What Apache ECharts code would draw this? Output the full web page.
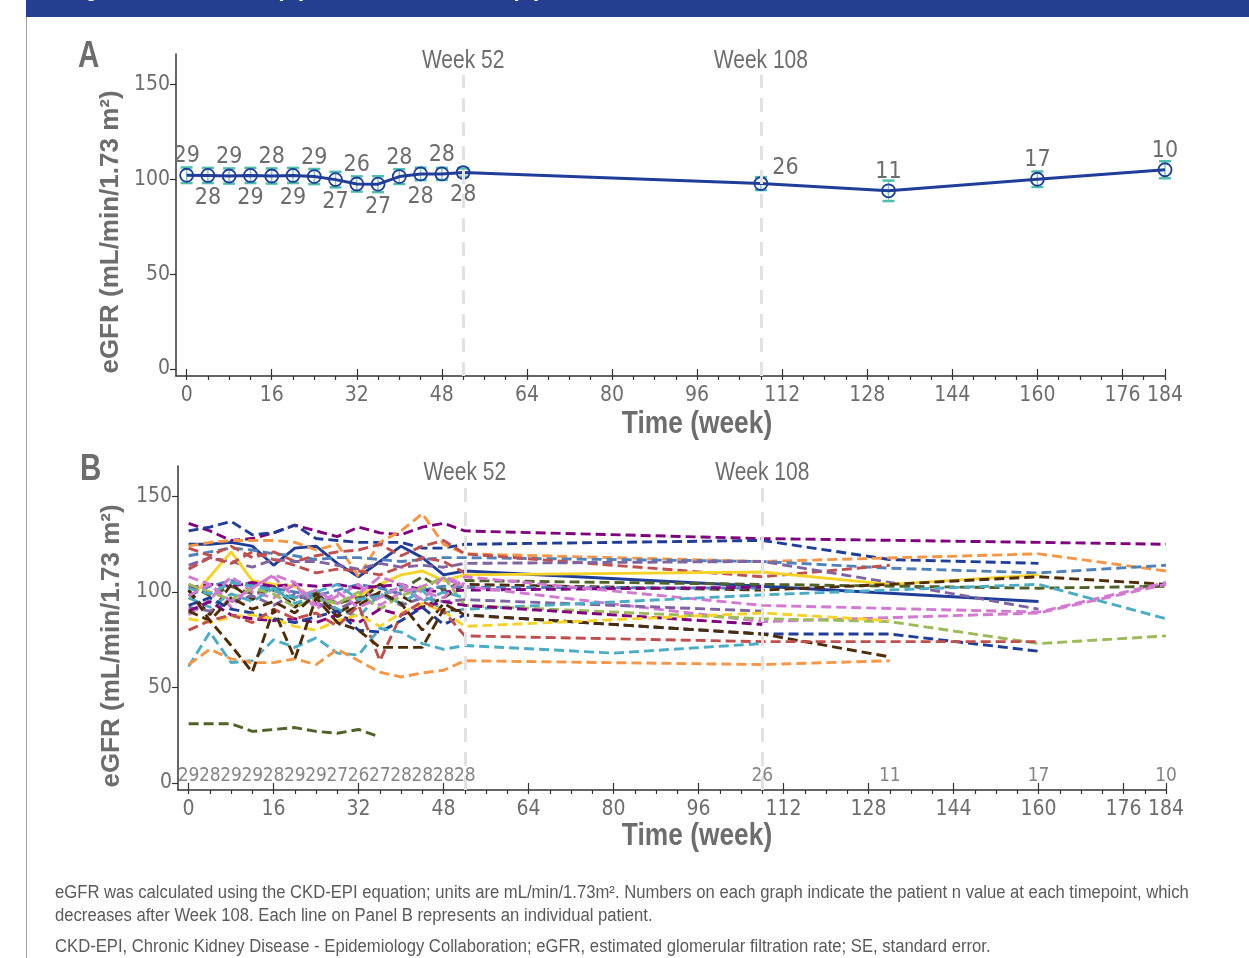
<!DOCTYPE html>
<html><head><meta charset="utf-8">
<script src="https://cdn.jsdelivr.net/npm/echarts@6/dist/echarts.min.js"></script>
<style>html,body{margin:0;padding:0;background:#fff}#c{width:1249px;height:958px}</style>
</head><body><div id="c"></div>
<script>
// ---------- Panel A: mean (SE) ----------
const weeksA = [0,4,8,12,16,20,24,28,32,36,40,44,48,52,108,132,160,184];
const meanA  = [102.1,102,101.7,102,101.7,102,101.4,99.8,97.5,97.4,101.4,102.8,102.8,103.5,97.7,93.9,100,105];
const seA    = [4.1,4,4,4,4,4,4,4.1,4,4.2,3.9,3.3,3.2,2.2,3.4,5.4,4.1,4.5];
const nA     = [29,28,29,29,28,29,29,27,26,27,28,28,28,28,26,11,17,10];

// ---------- Panel B: individual patients ----------
const weeksB = [0,4,8,12,16,20,24,28,32,36,40,44,48,52,80,108,132,160,184];
const nB     = [29,28,29,29,28,29,29,27,26,27,28,28,28,28,26,11,17,10];
const nWeeksB = [0,4,8,12,16,20,24,28,32,36,40,44,48,52,108,132,160,184];
const _ = null;
const p01 = [136,132,127,128,131,135,132,129,134,131,130,134,136,132,_,128,_,126,125];
const p02 = [132,134,137,130,131,135,128,127,126,126,126,123,123,125,_,127,117,115,_];
const p03 = [125,125,126,124,114,123,124,115,108,116,124,118,109,111,_,103,_,95,_];
const p04 = [124,126,127,127,127,126,122,125,108,126,132,141,125,120,_,116,_,120,111];
const p05 = [119,121,123,122,120,119,117,118,118,117,116,117,118,118,_,116,112.5,110,114];
const p06 = [123,119,124,118,121,116,119,121,122,125,119,124,127,120,_,108,114,_,_];
const p07 = [114,118,116,113,117,116,116,114,112,115,113,114,113,115,_,116,105,91,_];
const p08 = [96,108,121,106,104,103,96,94,98,104,109,111,106,109,_,110.5,104,109,_];
const p09 = [104,98,103,99,101,96,100,94,97,99,101,108,101,106,_,104,_,102,103];
const p10 = [101,88,104,96,103,92,100,89,95,104,98,92,97,104,_,101,104,108,104];
const p11 = [98,103,106,104,102,100,98,101,104,102,99,101,103,102.5,_,102,_,_,_];
const p12 = [102,104,103,105,103,104,103,104,102,103,104,101,100,101,_,102.5,_,_,_];
const p13 = [108,104,92,103,108,97,101,94,99,108,104,100,97,108,_,93,_,89.5,105];
const p14 = [88,96,108,100,97,104,91,98,104,93,100,103,107,103,_,84.5,_,89,104];
const p15 = [92,90,95,98,93,99,94,91,96,99,93,97,95,96,_,90,_,_,_];
const p16 = [97,92,99,95,102,94,98,91,87,99,94,101,89,91,_,98.5,_,104,86];
const p17 = [104,100,96,102,99,92,97,94,100,91,98,102,108,93,_,86,84.5,73,77];
const p18 = [90,95,88,86,85,86,84,88,84,91,88,92,95,93,_,83,_,_,_];
const p19 = [93,97,91,89,86,84,87,90,80,79,85,92,83,88,_,78,78,69,_];
const p20 = [90,85,97,91,95,89,99,87,93,100,94,80,94,88,_,78,66,_,_];
const p21 = [86,84,87,88,86,82,80,85,88,82,89,94,90,82,_,89,85,_,_];
const p22 = [80,85,88,84,91,86,89,82,93,64,88,95,90,77,_,74,_,74,_];
const p23 = [61,79,63,64,75,71,76,68,67,81,79,73,70,72,68,73,_,_,_];
const p24 = [62,70,65,63,63,65,62,70,64,58,55.5,57.6,59,64,_,62,64,_,_];
const p25 = [101,85,72,58,91,65,97,84,80,71,71,71,91,90,_,_,_,_,_];
const p26 = [31,31,31,27,28,29,27,26,28,24,_,_,_,_,_,_,_,_,_];
const p27 = [112,118,115,121,117,114,110,112,111,109,113,118,116,110,_,_,_,_,_];
const p28 = [102,99,105,103,101,97,100,104,96,98,103,95,100,97,_,_,_,_,_];
const p29 = [98,104,95,102,109,105,93,100,92,97,103,96,108,104,_,_,_,_,_];
const patients = [p01,p02,p03,p04,p05,p06,p07,p08,p09,p10,p11,p12,p13,p14,p15,p16,p17,p18,p19,p20,p21,p22,p23,p24,p25,p26,p27,p28,p29];
const patientColors = ['#800080','#1f3d99','#1f3d99','#f79646','#4f81bd','#c0504d','#8064a2','#f5d328','#4f6228','#4d2c06',
  '#4f81bd','#800080','#d279d2','#d279d2','#8064a2','#4bacc6','#9bbb59','#800080','#1f3d99','#4d2c06',
  '#f5d328','#c0504d','#4bacc6','#f79646','#4d2c06','#4f6228','#c0504d','#4bacc6','#d279d2'];
const patientSolid = [false,false,true,false,false,false,false,true,false,false,false,false,false,false,false,false,false,false,false,false,false,false,false,false,false,false,false,false,false];

const xTickLabels = [0,16,32,48,64,80,96,112,128,144,160,176,184];
const yTickLabels = [0,50,100,150];
const refWeeks = [52,108];
const refLabels = ['Week 52','Week 108'];

// ---------- styling ----------
const COND = "'DejaVu Sans Condensed','Liberation Sans',sans-serif";
const SANS = "'Liberation Sans',Arial,sans-serif";
const GREY = '#6d6d6d';
const AXIS = '#333333';
const minorTicks = [];
for (let w = 0; w <= 184; w += 4) minorTicks.push(w);

function xAxes(gi) {
  return [{
    type:'value', gridIndex:gi, min:-2, max:184, position:'bottom',
    axisLine:{show:true, onZero:false, lineStyle:{color:AXIS, width:1.5}},
    axisTick:{show:true, customValues:minorTicks, length:4, lineStyle:{color:AXIS, width:1.2}},
    axisLabel:{show:true, customValues:xTickLabels, color:GREY, fontFamily:COND, fontSize:21, margin:9},
    splitLine:{show:false}
  },{
    type:'value', gridIndex:gi, min:-2, max:184, position:'bottom',
    axisLine:{show:false},
    axisTick:{show:true, customValues:xTickLabels, length:7, lineStyle:{color:AXIS, width:1.2}},
    axisLabel:{show:false}, splitLine:{show:false}
  }];
}
function yAxis(gi) {
  return {
    type:'value', gridIndex:gi, min:-3.7, max:166,
    axisLine:{show:true, onZero:false, lineStyle:{color:AXIS, width:1.5}},
    axisTick:{show:true, customValues:yTickLabels, length:6, lineStyle:{color:AXIS, width:1.2}},
    axisLabel:{show:true, customValues:yTickLabels, color:GREY, fontFamily:COND, fontSize:21, margin:6},
    splitLine:{show:false}
  };
}
function refLineSeries(xi, yi) {
  return {
    type:'line', xAxisIndex:xi, yAxisIndex:yi, data:[], z:1, silent:true,
    markLine:{
      symbol:'none', silent:true, animation:false,
      lineStyle:{color:'#e2e2e2', width:3, type:[14,10]},
      label:{show:false},
      data: refWeeks.map((w,i)=>[{name:refLabels[i], coord:[w,-3.7]},{coord:[w,155]}])
    }
  };
}

// Panel A series
const errData = weeksA.map((w,i)=>[w, meanA[i]-seA[i], meanA[i]+seA[i]]);
const errSeries = {
  type:'custom', xAxisIndex:0, yAxisIndex:0, z:3, data:errData,
  renderItem:(params, api)=>{
    const x = api.value(0);
    const p1 = api.coord([x, api.value(1)]), p2 = api.coord([x, api.value(2)]);
    const w = 6;
    return {type:'group', children:[
      {type:'line', shape:{x1:p1[0],y1:p1[1],x2:p2[0],y2:p2[1]}, style:{stroke:'#7fc9bf', lineWidth:1.5}},
      {type:'line', shape:{x1:p1[0]-w,y1:p1[1],x2:p1[0]+w,y2:p1[1]}, style:{stroke:'#4fbfae', lineWidth:2.5}},
      {type:'line', shape:{x1:p2[0]-w,y1:p2[1],x2:p2[0]+w,y2:p2[1]}, style:{stroke:'#4fbfae', lineWidth:2.5}}
    ]};
  }
};
const meanData = weeksA.map((w,i)=>{
  let label;
  if (i < 14) label = (i % 2 === 0) ? {position:'top', distance:0} : {position:'bottom', distance:4};
  else if (w === 108) label = {position:'right', offset:[0,-16], distance:4};
  else label = {position:'top', distance:0};
  return {value:[w, meanA[i], nA[i]], label};
});
const meanSeries = {
  type:'line', xAxisIndex:0, yAxisIndex:0, z:4, data:meanData,
  symbol:'circle', symbolSize:13,
  itemStyle:{color:'rgba(255,255,255,0)', borderColor:'#1f3d99', borderWidth:1.8},
  lineStyle:{color:'#1f3d99', width:3},
  label:{show:true, color:GREY, fontFamily:COND, fontSize:23, formatter:p=>p.value[2]},
  animation:false
};

// Panel B series
const patientSeries = patients.map((vals, k)=>({
  type:'line', xAxisIndex:2, yAxisIndex:1, z:2, showSymbol:false, animation:false, silent:true,
  data: weeksB.map((w,i)=>[w, vals[i]]).filter(d=>d[1] !== null),
  lineStyle:{color:patientColors[k], width:2.9, type: patientSolid[k] ? 'solid' : [10,5]}
}));
const nLabelSeries = {
  type:'scatter', xAxisIndex:2, yAxisIndex:1, z:5, symbolSize:1,
  itemStyle:{color:'rgba(0,0,0,0)'},
  data: nWeeksB.map((w,i)=>[w, 3.8, nB[i]]),
  label:{show:true, position:'inside', color:'#666666', fontFamily:COND, fontSize:19, formatter:p=>p.value[2]},
  animation:false
};

const option = {
  backgroundColor:'#ffffff',
  animation:false,
  grid:[
    {left:176, right:84, top:54, height:322},
    {left:178, right:83, top:466, height:324}
  ],
  xAxis:[...xAxes(0), ...xAxes(1)],
  yAxis:[yAxis(0), yAxis(1)],
  series:[
    refLineSeries(0,0), errSeries, meanSeries,
    refLineSeries(2,1), ...patientSeries, nLabelSeries
  ]
};
const chart = echarts.init(document.getElementById('c'), null, {renderer:'canvas'});
chart.setOption(option);

// texts (scaled horizontally to imitate the narrow typeface)
function txt(x, y, text, font, extra) {
  return Object.assign({type:'text', x, y, z:20, style:{text, font, fill:GREY, align:'left', verticalAlign:'middle'}}, extra || {});
}
const FOOT = '#5a5a5a';
const g = [
  {type:'rect', shape:{x:26, y:0, width:1223, height:17}, style:{fill:'#243f8f'}, z:10},
  {type:'text', x:65, y:2, z:11, scaleX:0.85, style:{text:'Figure 3. Mean eGFR over time', font:"bold 26px "+SANS, fill:'#fff', verticalAlign:'bottom'}},
  {type:'text', x:276, y:2, z:11, scaleX:0.85, style:{text:'(A)', font:"bold 26px "+SANS, fill:'#fff', verticalAlign:'bottom'}},
  {type:'text', x:511, y:2, z:11, scaleX:0.85, style:{text:'(B)', font:"bold 26px "+SANS, fill:'#fff', verticalAlign:'bottom'}},
  {type:'line', shape:{x1:26.5, y1:17, x2:26.5, y2:958}, style:{stroke:'#a0a0a0', lineWidth:1}},
  txt(78, 57, 'A', "bold 36px "+SANS, {scaleX:0.82}),
  txt(80, 470, 'B', "bold 36px "+SANS, {scaleX:0.82}),
  {type:'text', x:111, y:232, rotation:Math.PI/2, z:20, style:{text:'eGFR (mL/min/1.73 m²)', font:"bold 26px "+SANS, fill:GREY, align:'center', verticalAlign:'middle'}},
  {type:'text', x:112, y:646, rotation:Math.PI/2, z:20, style:{text:'eGFR (mL/min/1.73 m²)', font:"bold 26px "+SANS, fill:GREY, align:'center', verticalAlign:'middle'}},
  {type:'text', x:697, y:424, z:20, scaleX:0.85, style:{text:'Time (week)', font:"bold 31px "+SANS, fill:GREY, align:'center', verticalAlign:'middle'}},
  {type:'text', x:697, y:836, z:20, scaleX:0.85, style:{text:'Time (week)', font:"bold 31px "+SANS, fill:GREY, align:'center', verticalAlign:'middle'}},
  {type:'text', x:55, y:893, z:20, scaleX:0.925, style:{text:'eGFR was calculated using the CKD-EPI equation; units are mL/min/1.73m². Numbers on each graph indicate the patient n value at each timepoint, which', font:"18px "+SANS, fill:FOOT, verticalAlign:'middle'}},
  {type:'text', x:55, y:916, z:20, scaleX:0.925, style:{text:'decreases after Week 108. Each line on Panel B represents an individual patient.', font:"18px "+SANS, fill:FOOT, verticalAlign:'middle'}},
  {type:'text', x:55, y:947, z:20, scaleX:0.925, style:{text:'CKD-EPI, Chronic Kidney Disease - Epidemiology Collaboration; eGFR, estimated glomerular filtration rate; SE, standard error.', font:"18px "+SANS, fill:FOOT, verticalAlign:'middle'}}
];
// "Week" labels placed above the top of each reference line, through the axes
[[0,0],[2,1]].forEach(([xi, yi])=>{
  refWeeks.forEach((w, i)=>{
    const p = chart.convertToPixel({xAxisIndex:xi, yAxisIndex:yi}, [w, 155]);
    g.push({type:'text', x:p[0], y:p[1]-14, z:20, scaleX:0.84,
      style:{text:refLabels[i], font:"25px "+SANS, fill:GREY, align:'center', verticalAlign:'middle'}});
  });
});
chart.setOption({graphic:g});
</script>
</body></html>
